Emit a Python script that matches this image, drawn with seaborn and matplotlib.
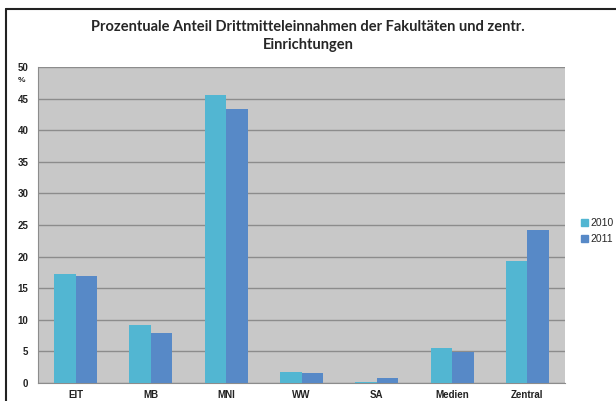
import pandas as pd
import matplotlib
matplotlib.use("Agg")
import matplotlib.pyplot as plt
import seaborn as sns
from matplotlib.lines import Line2D

# data
categories = ["EIT", "MB", "MNI", "WW", "SA", "Medien", "Zentral"]
values_2010 = [17.2, 9.1, 45.6, 1.8, 0.1, 5.6, 19.3]
values_2011 = [16.9, 7.9, 43.4, 1.6, 0.8, 4.9, 24.2]
years = ["2010", "2011"]
colors = ["#52B6D2", "#5789C7"]

df = pd.DataFrame({
    "Fakultaet": categories * 2,
    "Jahr": [years[0]] * len(categories) + [years[1]] * len(categories),
    "Anteil": values_2010 + values_2011,
})

sns.set_style("white")
plt.rcParams["font.family"] = ["Liberation Sans", "DejaVu Sans"]

fig = plt.figure(figsize=(6.16, 4.01), dpi=100)
ax = fig.add_axes([38 / 616, 1 - 383 / 401, (565 - 38) / 616, (383 - 67) / 401])
ax.set_facecolor("#C8C8C8")

sns.barplot(data=df, x="Fakultaet", y="Anteil", hue="Jahr",
            palette=colors, width=0.57, saturation=1, linewidth=0,
            ax=ax, zorder=3)

ax.set_ylim(0, 50)
ax.set_xlim(-0.5, len(categories) - 0.5)
ax.set_yticks(range(0, 51, 5))
ax.yaxis.grid(True, color="#8C8C8C", linewidth=1, zorder=1)
ax.set_axisbelow(True)
for side in ["top", "right"]:
    ax.spines[side].set_visible(False)
for side in ["left", "bottom"]:
    ax.spines[side].set_color("#8C8C8C")
    ax.spines[side].set_linewidth(0.8)

ax.set_xlabel("")
ax.set_ylabel("")
ax.tick_params(axis="y", length=4, color="#8C8C8C", labelsize=7, labelcolor="#222222", pad=3)
ax.tick_params(axis="x", which="major", length=0, labelsize=7, labelcolor="#222222", pad=5)
ax.set_xticks([i - 0.5 for i in range(len(categories) + 1)], minor=True)
ax.tick_params(axis="x", which="minor", length=4, color="#8C8C8C")
for lbl in ax.get_xticklabels() + ax.get_yticklabels():
    lbl.set_fontweight("bold")

fig.text(22 / 616, 1 - 81 / 401, "%", fontsize=6, fontweight="bold",
         color="#222222", ha="center", va="center")

# legend on the right
handles = [plt.Rectangle((0, 0), 1, 1, color=c) for c in colors]
fig.legend(handles, years, loc="center left", bbox_to_anchor=(572 / 616, 1 - 231 / 401),
           frameon=False, fontsize=7.5, handlelength=0.6, handleheight=0.6,
           handletextpad=0.3, labelspacing=0.6)
ax.get_legend().remove()

fig.text(0.5, 1 - 36 / 401,
         "Prozentuale Anteil Drittmitteleinnahmen der Fakultäten und zentr.\nEinrichtungen",
         ha="center", va="center", fontsize=10.5, fontweight="bold",
         family=["Lato", "DejaVu Sans"], linespacing=1.45)

# chart frame (top and left edge visible)
fig.add_artist(Line2D([6 / 616, 6 / 616], [0, 1 - 9 / 401], color="#222222", linewidth=1.5))
fig.add_artist(Line2D([6 / 616, 1], [1 - 9 / 401, 1 - 9 / 401], color="#222222", linewidth=1.5))

fig.savefig("out.png", dpi=100)
